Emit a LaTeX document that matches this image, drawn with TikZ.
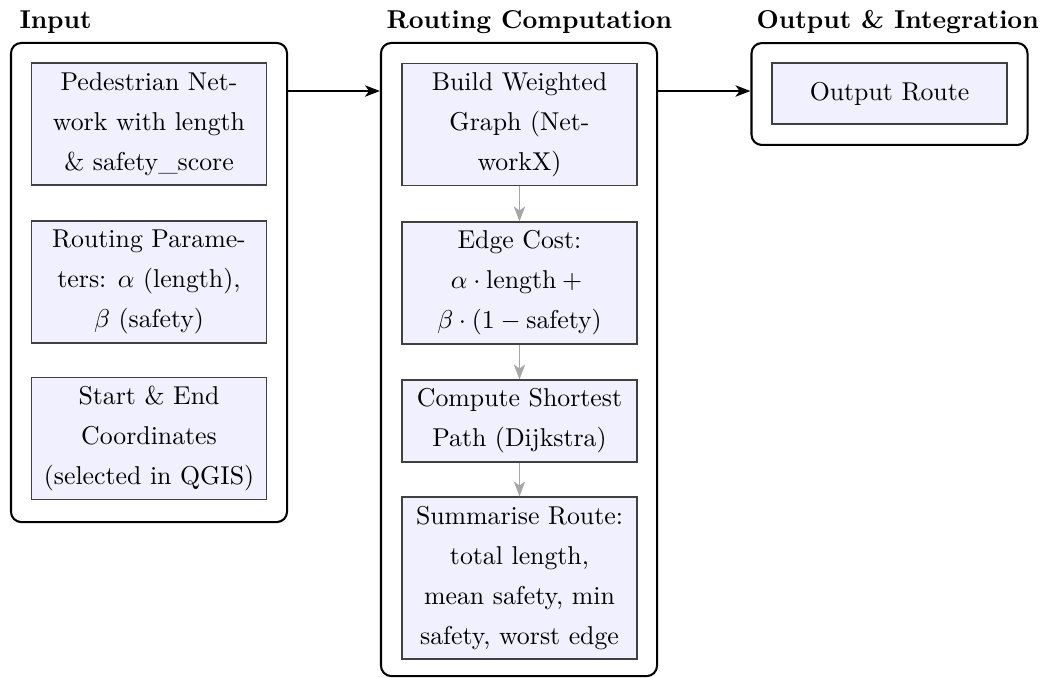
\documentclass[tikz,border=0pt]{standalone}
\usetikzlibrary{arrows.meta}
\begin{document}
\begin{tikzpicture}[x=0.3876pt,y=-0.3876pt,
  txt/.style={font=\fontsize{10}{15.5}\selectfont},
  group/.style={draw=black, line width=0.8pt, rounded corners=4pt,
    minimum width=107pt, inner sep=0pt},
  stepbox/.style={txt, draw=black!75, fill=blue!6, line width=0.45pt,
    align=center, minimum width=91.1pt, inner sep=0pt},
  title/.style={font=\bfseries, anchor=base west, inner sep=0pt},
  flow/.style={-{Stealth[length=5.8pt,width=4.4pt,inset=1.6pt]}, line width=0.75pt, black},
  sub/.style={-{Stealth[length=5.8pt,width=4.4pt,inset=1.6pt]}, line width=0.75pt, black!35}
]
\useasboundingbox (0,0) rectangle (1048,677);

% column frames
\node[group, minimum height=185.7pt] (gin) at (149,282.5) {};
\node[group, minimum height=245.4pt] (grt) at (519,359.5) {};
\node[group, minimum height=39.5pt]  (gout) at (889.5,94) {};

% column headings
\node[title] (tin)  at (19,28)  {Input};
\node[title] (trt)  at (386,28) {Routing Computation};
\node[title] (tout) at (756,28) {Output \& Integration};

% input column
\node[stepbox, minimum height=47.3pt] (net) at (149,124)
  {Pedestrian Net-\\work with length\\\& safety\_score};
\node[stepbox, minimum height=47.3pt] (par) at (149,282)
  {Routing Parame-\\ters: $\alpha$ (length),\\$\beta$ (safety)};
\node[stepbox, minimum height=47.5pt] (pts) at (149,438.5)
  {Start \& End\\Coordinates\\(selected in QGIS)};

% routing column
\node[stepbox, minimum height=47.5pt] (bld) at (519.5,124.5)
  {Build Weighted\\Graph (Net-\\workX)};
\node[stepbox, minimum height=47.3pt] (cst) at (519.5,283)
  {Edge Cost:\\$\alpha\cdot\mbox{length}+{}$\\$\beta\cdot(1-\mbox{safety})$};
\node[stepbox, minimum height=31.8pt] (sp) at (519.5,421)
  {Compute Shortest\\Path (Dijkstra)};
\node[stepbox, minimum height=62.8pt] (sum) at (519.5,578)
  {Summarise Route:\\total length,\\mean safety, min\\safety, worst edge};

% output column
\node[stepbox, minimum height=23.6pt] (out) at (889.5,93.5) {Output Route};

% connectors
\coordinate (lvl) at (0,91);
\draw[flow] (gin.east |- lvl) -- (grt.west |- lvl);
\draw[flow] (grt.east |- lvl) -- (gout.west |- lvl);
\draw[sub] (bld) -- (cst);
\draw[sub] (cst) -- (sp);
\draw[sub] (sp) -- (sum);
\end{tikzpicture}
\end{document}
